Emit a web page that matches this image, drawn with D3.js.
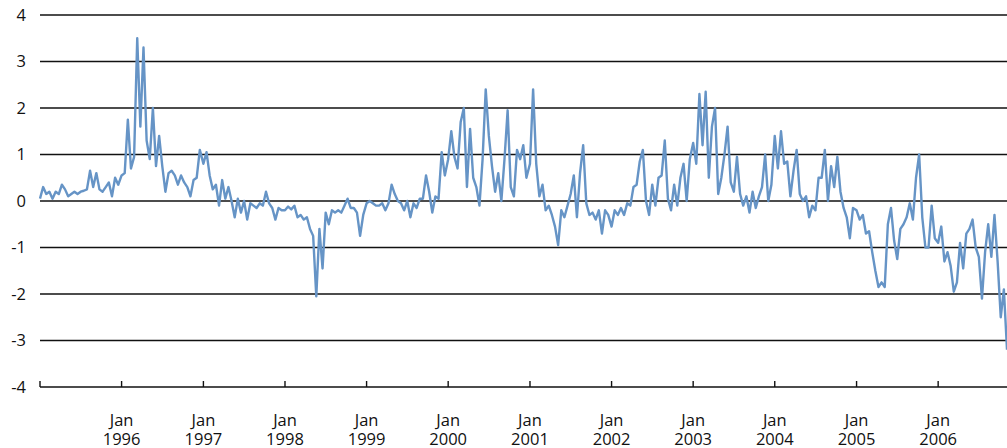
<!DOCTYPE html>
<html>
<head>
<meta charset="utf-8">
<script src="https://cdn.jsdelivr.net/npm/d3@7"></script>
<style>
  body { margin: 0; background: #fff; }
</style>
</head>
<body>
<div class="chart-wrapper"></div>
<script>
// roughly fortnightly readings, one list per year
const y1995 = [0.05,0.3,0.15,0.2,0.05,0.2,0.15,0.35,0.25,0.1,0.15,0.2,0.15,0.2,0.22,0.25,0.65,0.3,0.6,0.25,0.2,0.3,0.4,0.1,0.5,0.35]
const y1996 = [0.55,0.6,1.75,0.7,0.95,3.5,1.6,3.3,1.3,0.9,2.0,0.75,1.4,0.75,0.2,0.6,0.65,0.55,0.35,0.55,0.4,0.3,0.1,0.45,0.5,1.1]
const y1997 = [0.8,1.05,0.55,0.25,0.35,-0.1,0.45,0.05,0.3,0.0,-0.35,0.05,-0.25,0.0,-0.4,-0.05,-0.1,-0.15,-0.05,-0.1,0.2,-0.05,-0.15,-0.4,-0.15,-0.2]
const y1998 = [-0.2,-0.12,-0.18,-0.1,-0.35,-0.3,-0.4,-0.35,-0.6,-0.75,-2.05,-0.6,-1.45,-0.25,-0.5,-0.2,-0.25,-0.2,-0.25,-0.1,0.05,-0.15,-0.15,-0.25,-0.75,-0.3]
const y1999 = [-0.05,0.0,-0.05,-0.1,-0.1,-0.05,-0.2,-0.05,0.35,0.15,0.0,-0.05,-0.2,0.0,-0.35,-0.05,-0.15,0.05,0.05,0.55,0.2,-0.25,0.1,0.05,1.05,0.55]
const y2000 = [0.9,1.5,0.95,0.7,1.7,2.0,0.3,1.55,0.5,0.3,-0.1,0.9,2.4,1.4,0.75,0.2,0.6,0.0,0.9,1.95,0.3,0.1,1.1,0.9,1.2,0.5]
const y2001 = [0.8,2.4,0.8,0.1,0.35,-0.2,-0.1,-0.3,-0.55,-0.95,-0.2,-0.35,-0.1,0.15,0.55,-0.35,0.6,1.2,-0.05,-0.3,-0.25,-0.4,-0.2,-0.7,-0.2,-0.3]
const y2002 = [-0.55,-0.2,-0.3,-0.15,-0.3,-0.05,-0.1,0.3,0.35,0.85,1.1,0.0,-0.3,0.35,-0.1,0.5,0.55,1.3,0.05,-0.2,0.35,-0.1,0.5,0.8,0.0,0.9]
const y2003 = [1.25,0.8,2.3,1.2,2.35,0.5,1.6,2.0,0.15,0.5,1.0,1.6,0.4,0.2,0.95,0.15,-0.1,0.1,-0.25,0.2,-0.15,0.1,0.3,1.0,0.0,0.35]
const y2004 = [1.4,0.7,1.5,0.8,0.85,0.1,0.65,1.1,0.15,0.0,0.1,-0.35,-0.1,-0.2,0.5,0.5,1.1,0.0,0.75,0.3,0.95,0.2,-0.15,-0.35,-0.8,-0.15]
const y2005 = [-0.2,-0.4,-0.3,-0.7,-0.65,-1.1,-1.5,-1.85,-1.75,-1.85,-0.5,-0.15,-0.85,-1.25,-0.6,-0.5,-0.35,-0.05,-0.4,0.5,1.0,-0.35,-1.0,-1.0,-0.1,-0.8]
const y2006 = [-0.9,-0.55,-1.3,-1.1,-1.4,-1.95,-1.75,-0.9,-1.45,-0.7,-0.6,-0.4,-1.0,-1.2,-2.1,-1.1,-0.5,-1.2,-0.3,-1.3,-2.5,-1.9,-3.2]

const years = [1995,1996,1997,1998,1999,2000,2001,2002,2003,2004,2005,2006]
const series = [y1995,y1996,y1997,y1998,y1999,y2000,y2001,y2002,y2003,y2004,y2005,y2006]
const yTicks = [4,3,2,1,0,-1,-2,-3,-4]
const tickYears = [1995,1996,1997,1998,1999,2000,2001,2002,2003,2004,2005,2006]

const data = []
series.forEach((vals, k) => {
  vals.forEach((v, i) => {
    data.push({ date: d3.timeDay.offset(new Date(years[k], 0, 1), i * 14), value: v })
  })
})

const width = 1007
const height = 448
const margin = { top: 15, right: 0, bottom: 61, left: 40 }

const x = d3.scaleTime()
  .domain([new Date(1995, 0, 1), data[data.length - 1].date])
  .range([margin.left, width - margin.right])

const y = d3.scaleLinear()
  .domain([-4, 4])
  .range([height - margin.bottom, margin.top])

const svg = d3.select('.chart-wrapper').append("svg")
  .attr("width", width)
  .attr("height", height)
  .attr("font-family", "'Open Sans', sans-serif")
  .attr("font-size", 16.5)

svg.append("g")
  .attr("stroke", "#111")
  .attr("stroke-width", 1.4)
  .selectAll("line")
  .data(yTicks)
  .join("line")
  .attr("x1", margin.left)
  .attr("x2", width - margin.right)
  .attr("y1", d => y(d))
  .attr("y2", d => y(d))

svg.append("g")
  .selectAll("text")
  .data(yTicks)
  .join("text")
  .attr("x", 26)
  .attr("y", d => y(d))
  .attr("dy", "0.36em")
  .attr("text-anchor", "end")
  .attr("fill", "#111")
  .text(d => d)

const xAxis = svg.append("g")
  .attr("transform", `translate(0,${y(-4)})`)

xAxis.selectAll("line")
  .data(tickYears)
  .join("line")
  .attr("x1", d => x(new Date(d, 0, 1)))
  .attr("x2", d => x(new Date(d, 0, 1)))
  .attr("y1", 0)
  .attr("y2", -6)
  .attr("stroke", "#111")
  .attr("stroke-width", 1.4)

const label = xAxis.selectAll("text")
  .data(tickYears.slice(1))
  .join("text")
  .attr("text-anchor", "middle")
  .attr("fill", "#111")
  .attr("transform", d => `translate(${x(new Date(d, 0, 1))},0)`)

label.append("tspan")
  .attr("x", 0)
  .attr("y", 39)
  .text("Jan")

label.append("tspan")
  .attr("x", 0)
  .attr("y", 58)
  .text(d => d)

const line = d3.line()
  .x(d => x(d.date))
  .y(d => y(d.value))

svg.append("path")
  .datum(data)
  .attr("fill", "none")
  .attr("stroke", "#6694c6")
  .attr("stroke-width", 2.4)
  .attr("stroke-linejoin", "round")
  .attr("d", line)
</script>
</body>
</html>
